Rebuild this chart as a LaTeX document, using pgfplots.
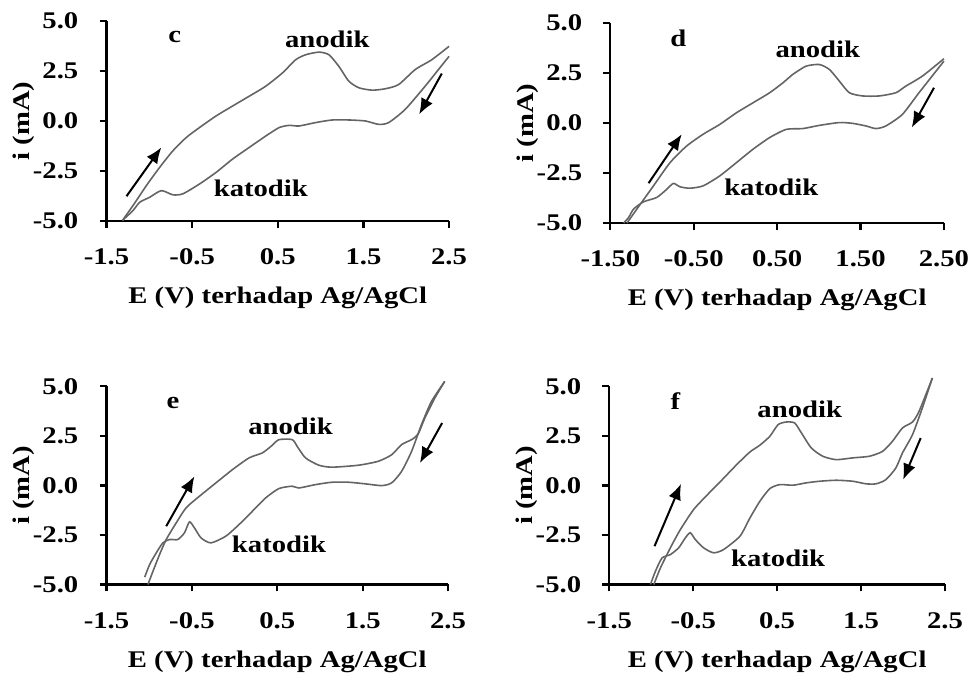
\documentclass[border=0pt]{standalone}
\usepackage{fontspec}
\setmainfont{Liberation Serif}[FakeStretch=1.2]
\usepackage{pgfplots}
\pgfplotsset{compat=1.18}
\usetikzlibrary{arrows.meta}
\definecolor{cvgray}{RGB}{100,100,100}
\tikzset{arr/.style={-{Latex[length=8pt,width=6.5pt]}, line width=1pt, black},
  tk/.style={line width=1.1pt, black}}
\pgfplotsset{
  cv/.style={cvgray, line width=0.8pt, smooth, tension=0.4, no marks},
  cvstyle/.style={
    scale only axis,
    axis x line*=bottom, axis y line*=left,
    xmin=-1.5, xmax=2.5, ymin=-5, ymax=5,
    xtick={-1.5,-0.5,0.5,1.5,2.5},
    xticklabels={-1.5,-0.5,0.5,1.5,2.5},
    ytick={-5,-2.5,0,2.5,5},
    yticklabels={-5.0,-2.5,0.0,2.5,5.0},
    xlabel={E (V) terhadap Ag/AgCl},
    ylabel={i (mA)},
    xlabel style={at={(axis description cs:0.5,0)}, anchor=base, yshift=-41.5pt},
    ylabel style={at={(axis description cs:0,0.5)}, anchor=center, yshift=41.5pt},
    xticklabel style={anchor=base, yshift=-18.5pt},
    yticklabel style={anchor=east, xshift=-6.5pt},
  },
}
\begin{document}
\bfseries\fontsize{12}{14}\selectfont
\begin{tikzpicture}
\path (0,0) rectangle (488.5pt,340.5pt);
% ---------- c ----------
\begin{axis}[cvstyle, at={(53.5pt,229.5pt)}, anchor=south west, width=172pt, height=100.5pt,
  tick align=outside, major tick length=3.5pt,
  axis line style={black, line width=1.1pt}, tick style={black, line width=1.1pt}, clip=false]
\addplot[cv] coordinates {(-1.314,-4.97) (-1.19,-4.22) (-1.035,-3.23) (-0.88,-2.32) (-0.725,-1.49) (-0.57,-0.83) (-0.415,-0.33) (-0.221,0.25) (-0.027,0.75) (0.167,1.24) (0.36,1.74) (0.554,2.40) (0.709,3.06) (0.826,3.31) (0.981,3.44) (1.097,3.31) (1.213,2.73) (1.329,1.99) (1.446,1.66) (1.601,1.54) (1.756,1.61) (1.911,1.82) (2.105,2.57) (2.298,3.06) (2.5,3.73)};
\addplot[cv] coordinates {(2.5,3.23) (2.376,2.57) (2.221,1.74) (1.988,0.58) (1.795,-0.08) (1.678,-0.17) (1.523,0.0) (1.329,0.05) (1.136,0.05) (0.942,-0.08) (0.748,-0.25) (0.632,-0.22) (0.516,-0.33) (0.36,-0.75) (0.167,-1.32) (-0.027,-1.90) (-0.221,-2.57) (-0.415,-3.15) (-0.609,-3.64) (-0.725,-3.69) (-0.86,-3.48) (-0.996,-3.81) (-1.112,-4.06) (-1.19,-4.47) (-1.314,-4.97)};
\draw[arr] (axis cs:-1.267,-3.76) -- (axis cs:-0.86,-1.32);
\draw[arr] (axis cs:2.415,2.37) -- (axis cs:2.151,0.33);
\node at (axis cs:-0.705,4.22) {c};
\node at (axis cs:1.078,4.06) {anodik};
\node at (axis cs:0.302,-3.36) {katodik};
\end{axis}
% ---------- d ----------
\begin{axis}[cvstyle, at={(306.5pt,228.5pt)}, anchor=south west, width=167.5pt, height=100.5pt,
  xticklabels={-1.50,-0.50,0.50,1.50,2.50},
  tick align=outside, major tick length=3.5pt,
  axis line style={black, line width=1.1pt}, tick style={black, line width=1.1pt}, clip=false]
\addplot[cv] coordinates {(-1.301,-5.0) (-1.182,-4.30) (-0.983,-3.14) (-0.784,-1.98) (-0.585,-1.15) (-0.386,-0.56) (-0.187,-0.07) (0.012,0.51) (0.211,1.01) (0.41,1.51) (0.57,2.01) (0.689,2.43) (0.848,2.84) (1.007,2.92) (1.127,2.67) (1.246,2.09) (1.366,1.51) (1.525,1.35) (1.724,1.35) (1.923,1.51) (2.042,1.84) (2.241,2.34) (2.5,3.21)};
\addplot[cv] coordinates {(2.5,3.09) (2.201,1.51) (2.002,0.43) (1.803,-0.15) (1.684,-0.28) (1.565,-0.15) (1.405,-0.02) (1.246,0.02) (1.007,-0.12) (0.808,-0.28) (0.609,-0.32) (0.41,-0.73) (0.211,-1.31) (0.012,-1.98) (-0.187,-2.64) (-0.386,-3.14) (-0.545,-3.26) (-0.664,-3.19) (-0.744,-3.02) (-0.823,-3.31) (-0.943,-3.72) (-1.102,-3.94) (-1.221,-4.30) (-1.281,-4.72) (-1.341,-5.0)};
\draw[arr] (axis cs:-1.042,-3.01) -- (axis cs:-0.644,-0.56);
\draw[arr] (axis cs:2.381,1.76) -- (axis cs:2.114,-0.23);
\node at (axis cs:-0.684,4.25) {d};
\node at (axis cs:0.988,3.67) {anodik};
\node at (axis cs:0.430,-3.22) {katodik};
\end{axis}
% ---------- e ----------
\begin{axis}[cvstyle, at={(53.5pt,47pt)}, anchor=south west, width=171.5pt, height=99.5pt,
  tick align=outside, major tick length=3.5pt,
  axis line style={black, line width=1.1pt}, tick style={black, line width=1.1pt}, clip=false]
\addplot[cv] coordinates {(-1.015,-5.0) (-0.956,-4.33) (-0.879,-3.49) (-0.801,-2.73) (-0.684,-1.89) (-0.568,-1.13) (-0.413,-0.55) (-0.218,0.13) (-0.024,0.80) (0.17,1.39) (0.325,1.64) (0.442,2.03) (0.519,2.31) (0.675,2.31) (0.733,1.97) (0.83,1.39) (0.986,1.02) (1.141,0.92) (1.452,1.02) (1.684,1.22) (1.84,1.55) (1.956,2.06) (2.073,2.31) (2.15,2.60) (2.228,3.40) (2.345,4.41) (2.461,5.25)};
\addplot[cv] coordinates {(2.461,5.25) (2.306,4.24) (2.189,3.07) (2.073,1.72) (1.956,0.71) (1.84,0.13) (1.723,-0.01) (1.529,0.08) (1.335,0.16) (1.141,0.16) (0.947,0.04) (0.752,-0.13) (0.675,-0.04) (0.519,-0.16) (0.364,-0.63) (0.209,-1.30) (0.053,-1.97) (-0.102,-2.56) (-0.277,-2.90) (-0.393,-2.65) (-0.471,-2.14) (-0.529,-1.84) (-0.587,-2.39) (-0.665,-2.73) (-0.762,-2.73) (-0.84,-2.90) (-0.917,-3.40) (-0.995,-3.99) (-1.053,-4.63)};
\draw[arr] (axis cs:-0.801,-2.06) -- (axis cs:-0.471,0.46);
\draw[arr] (axis cs:2.430,3.15) -- (axis cs:2.170,1.13);
\node at (axis cs:-0.723,4.16) {e};
\node at (axis cs:0.655,2.98) {anodik};
\node at (axis cs:0.520,-2.98) {katodik};
\end{axis}
% ---------- f ----------
\begin{axis}[cvstyle, at={(306pt,47pt)}, anchor=south west, width=168.5pt, height=99.5pt,
  tick align=outside, major tick length=3.5pt,
  axis line style={black, line width=1.1pt}, tick style={black, line width=1.1pt}, clip=false]
\addplot[cv] coordinates {(-0.97,-5.0) (-0.891,-4.16) (-0.773,-3.15) (-0.654,-2.23) (-0.496,-1.22) (-0.338,-0.50) (-0.18,0.18) (0.018,1.05) (0.176,1.69) (0.294,2.03) (0.413,2.48) (0.512,3.07) (0.611,3.20) (0.709,3.15) (0.789,2.65) (0.907,1.89) (1.045,1.47) (1.204,1.30) (1.401,1.39) (1.599,1.47) (1.757,1.72) (1.875,2.23) (1.994,2.90) (2.113,3.20) (2.192,3.74) (2.35,5.42)};
\addplot[cv] coordinates {(2.35,5.42) (2.231,3.91) (2.113,2.56) (1.994,1.64) (1.915,0.88) (1.796,0.29) (1.678,0.08) (1.559,0.08) (1.401,0.21) (1.204,0.26) (1.006,0.21) (0.848,0.13) (0.69,0.01) (0.532,0.04) (0.413,-0.16) (0.294,-0.80) (0.176,-1.64) (0.057,-2.56) (-0.14,-3.24) (-0.259,-3.40) (-0.377,-3.15) (-0.476,-2.73) (-0.536,-2.39) (-0.595,-2.65) (-0.674,-3.15) (-0.773,-3.49) (-0.872,-3.66) (-0.951,-4.33) (-1.01,-5.0)};
\draw[arr] (axis cs:-0.962,-3.07) -- (axis cs:-0.646,0.08);
\draw[arr] (axis cs:2.211,2.39) -- (axis cs:2.002,0.29);
\node at (axis cs:-0.713,4.24) {f};
\node at (axis cs:0.769,3.82) {anodik};
\node at (axis cs:0.512,-3.66) {katodik};
\end{axis}
\end{tikzpicture}
\end{document}
